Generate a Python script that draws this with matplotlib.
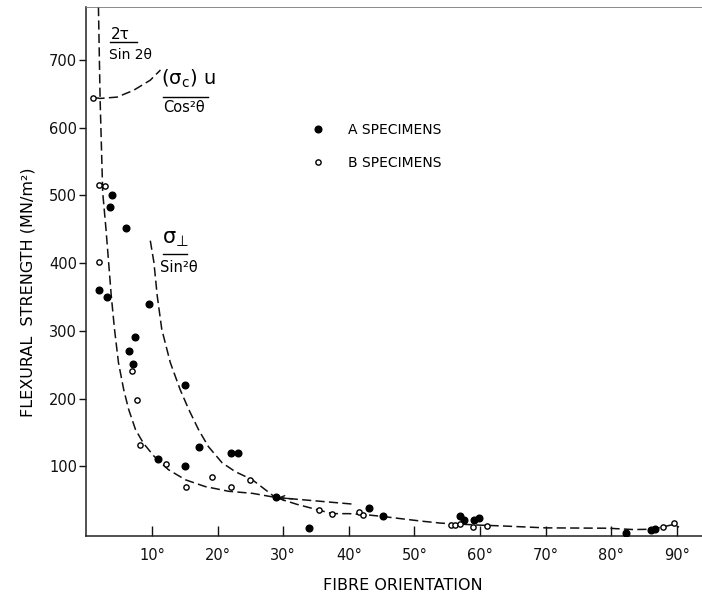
import matplotlib
matplotlib.use("Agg")
import matplotlib.pyplot as plt

# ---------------- data ----------------
# A specimens (filled circles)
a_orient = [2.0, 3.1, 3.9, 3.6, 6.1, 9.5, 7.4, 6.5, 7.1, 15.0, 17.1, 22.0, 23.1,
            10.9, 15.0, 28.9, 34.0, 43.0, 45.2, 56.9, 57.6, 59.0, 59.8, 82.2, 86.0, 86.7]
a_strength = [360, 350, 500, 482, 452, 340, 291, 270, 251, 220, 129, 119, 120,
              110, 100, 55, 9, 38, 27, 26, 20, 20, 23, 2, 6, 8]

# B specimens (open circles)
b_orient = [1.0, 1.9, 2.0, 2.9, 7.0, 7.8, 8.2, 12.1, 19.2, 15.2, 22.1, 25.0,
            35.5, 37.5, 41.6, 42.2, 55.5, 56.2, 57.0, 58.9, 61.0, 87.8, 89.5]
b_strength = [644, 402, 515, 513, 240, 198, 132, 104, 84, 69, 69, 79,
              35, 29, 33, 28, 13, 13, 14, 11, 12, 11, 16]

# theoretical curve 2tau/sin2theta (continuing as the low-strength tail)
shear_orient = [1.85, 2.1, 2.5, 3.0, 3.4, 3.8, 4.3, 4.9, 5.7, 6.45, 7.5, 8.7, 10.3,
                12.5, 15.1, 18.1, 21.7, 25.3, 28.8, 32.0, 35.5, 37.5, 40.0, 42.0,
                45.0, 51.0, 54.0, 60.0, 63.0, 70.0, 79.4, 83.4, 86.3, 87.8, 89.5, 90.3]
shear_strength = [778, 643, 504, 450, 401, 352, 302, 253, 213, 184, 154, 134, 115,
                  95, 80, 70, 63, 60, 54, 44, 35, 30, 30, 29,
                  26, 19, 16, 13, 12, 9, 8.5, 6.5, 7, 10.5, 14, 10]

# theoretical curve sigma_perp / sin^2 theta
trans_orient = [9.75, 10.3, 10.8, 11.5, 12.8, 14.3, 15.6, 17.1, 18.6, 20.7, 22.7, 25.3, 28.8]
trans_strength = [433, 401, 352, 302, 253, 213, 184, 154, 129, 105, 92, 80, 54]
trans_tail_orient = [28.8, 40.7]
trans_tail_strength = [54, 44]

# theoretical curve (sigma_c)u / cos^2 theta
comp_orient = [1.4, 2.1, 4.7, 7.2, 9.75, 11.3]
comp_strength = [644, 643, 645, 655, 670, 685]

x_ticks = [10, 20, 30, 40, 50, 60, 70, 80, 90]
x_tick_labels = ["10°", "20°", "30°", "40°", "50°", "60°", "70°", "80°", "90°"]
y_ticks = [100, 200, 300, 400, 500, 600, 700]
y_tick_labels = ["100", "200", "300", "400", "500", "600", "700"]

# ---------------- figure ----------------
plt.rcParams["font.family"] = ["DejaVu Sans"]
fig = plt.figure(figsize=(7.02, 5.98), dpi=100)
ax = fig.add_axes([86.3 / 702, 62 / 598, (702 - 86.3) / 702, 529 / 598])
ax.set_xlim(0, 93.8)
ax.set_ylim(-3, 778)

dash = (0, (6, 2.8))
lc = "#111111"
ax.plot(shear_orient, shear_strength, color=lc, lw=1.1, linestyle=dash, zorder=2)
ax.plot(trans_orient, trans_strength, color=lc, lw=1.1, linestyle=dash, zorder=2)
ax.plot(trans_tail_orient, trans_tail_strength, color=lc, lw=1.1, linestyle=dash, zorder=2)
ax.plot(comp_orient, comp_strength, color=lc, lw=1.1, linestyle=dash, zorder=2)
# arrow head at the start of the sigma_perp tail
ax.annotate("", xy=(trans_tail_orient[0] + 0.4, trans_tail_strength[0] - 0.3),
            xytext=(trans_tail_orient[0] + 2.6, trans_tail_strength[0] - 2.2),
            arrowprops=dict(arrowstyle="->", lw=1.0, color=lc,
                            mutation_scale=9, shrinkA=0, shrinkB=0), zorder=3)

ha, = ax.plot(a_orient, a_strength, "o", ms=4.8, color="black", mec="black",
              linestyle="none", zorder=4, label="A SPECIMENS")
hb, = ax.plot(b_orient, b_strength, "o", ms=3.8, mfc="white", mec="black",
              mew=1.0, linestyle="none", zorder=4, label="B SPECIMENS")

# axes styling
ax.spines["right"].set_visible(False)
ax.spines["top"].set_color("#777777")
ax.spines["top"].set_linewidth(0.6)
ax.spines["left"].set_linewidth(1.1)
ax.spines["bottom"].set_linewidth(1.1)
ax.spines["left"].set_color("#222222")
ax.spines["bottom"].set_color("#222222")

ax.set_xticks(x_ticks)
ax.set_xticklabels(x_tick_labels)
ax.set_yticks(y_ticks)
ax.set_yticklabels(y_tick_labels)
ax.tick_params(axis="x", direction="in", length=7, width=1.0, pad=9,
               labelsize=10.5, colors="#111111")
ax.tick_params(axis="y", direction="out", length=5, width=1.0, pad=1.5,
               labelsize=10.5, colors="#111111")

# curve annotations (fractions)
ax.text(3.7, 737, "2τ", fontsize=11, ha="left", va="center")
ax.plot([3.6, 7.8], [726, 726], color="black", lw=1.0)
ax.text(3.4, 707, "Sin 2θ", fontsize=10, ha="left", va="center")

ax.text(11.4, 672, "(σ$_\\mathregular{c}$) u", fontsize=14, ha="left", va="center")
ax.plot([11.75, 18.6], [645, 645], color="black", lw=1.0)
ax.text(11.7, 629, "Cos²θ", fontsize=10.5, ha="left", va="center")

ax.text(11.6, 436, "σ$_\\mathregular{⊥}$", fontsize=15, ha="left", va="center")
ax.plot([11.75, 15.4], [414, 414], color="black", lw=1.0)
ax.text(11.3, 393, "Sin²θ", fontsize=10.5, ha="left", va="center")

# legend
fig.legend(handles=[ha, hb], loc="center left",
           bbox_to_anchor=(311.4 / 702, 1 - 146.5 / 598),
           bbox_transform=fig.transFigure, frameon=False,
           fontsize=10, handlelength=1.0, handletextpad=1.6,
           labelspacing=1.4, borderpad=0, borderaxespad=0, markerscale=1.0)

# axis labels
fig.text(403 / 702, 1 - 586 / 598, "FIBRE ORIENTATION", fontsize=11.5,
         ha="center", va="center")
fig.text(28 / 702, 1 - 292 / 598, "FLEXURAL  STRENGTH (MN/m²)", fontsize=11.5,
         ha="center", va="center", rotation=90)

fig.savefig("out.png", dpi=100)
